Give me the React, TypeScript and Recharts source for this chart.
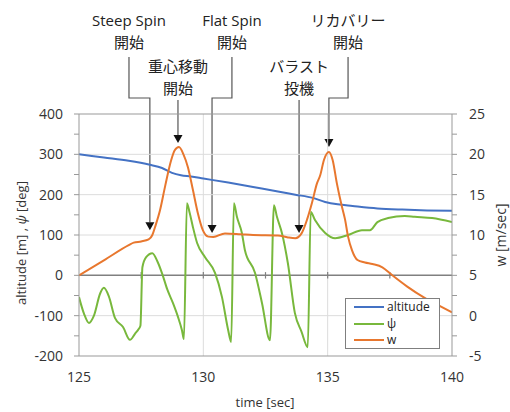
import { LineChart, Line, XAxis, YAxis, ReferenceLine, Legend, Customized } from 'recharts';

// altitude [m]
const altTime = [125, 126, 127, 127.85, 128.34, 128.74, 129.1, 129.5, 130, 131, 132, 133, 133.7, 134.4, 134.9, 135.4, 136, 137, 138, 139, 140];
const altValue = [300, 292, 284, 274, 266, 254, 248, 245, 240, 230, 219, 208, 200, 192, 182, 176, 172, 166, 163, 161, 160];

// psi [deg]
const psiTime = [
  125, 125.2, 125.4, 125.6, 125.85, 126, 126.2, 126.45, 126.77, 127.05, 127.25, 127.4, 127.47, 127.55, 127.7, 127.95,
  128.15, 128.34, 128.55, 128.78, 128.98, 129.14, 129.22, 129.34, 129.45, 129.58, 129.75, 130.07, 130.47, 130.75, 131,
  131.12, 131.23, 131.35, 131.55, 131.67, 132.08, 132.36, 132.68, 132.84, 132.96, 133.16, 133.4, 133.68, 133.95, 134.2,
  134.32, 134.49, 134.9, 135.3, 135.82, 136.38, 136.7, 137, 137.43, 138.1, 138.5, 139.2, 140,
];
const psiValue = [
  -54, -95, -118, -100, -45, -31, -52, -106, -128, -160, -145, -133, -125, 20, 45, 55,
  35, 5, -35, -69, -103, -136, -158, 179, 155, 120, 80, 45, 6, -54, -136,
  -165, 179, 145, 105, 63, 6, -69, -161, 174, 145, 105, 30, -93, -140, -178,
  157, 137, 105, 92, 100, 112, 112, 132, 142, 147, 145, 142, 132,
];

// w [m/sec]
const wTime = [
  125, 126, 127, 127.2, 127.5, 127.8, 127.95, 128.06, 128.26, 128.46, 128.7, 128.85, 129.02, 129.2, 129.38, 129.58,
  129.78, 129.98, 130.2, 130.4, 130.87, 131.5, 132, 133, 133.4, 133.7, 133.95, 134.17, 134.37, 134.57, 134.7, 134.85,
  135.05, 135.2, 135.37, 135.55, 135.7, 135.82, 135.98, 136.2, 136.5, 136.8, 137.2, 137.6, 138.2, 138.9, 139.5, 140,
];
const wValue = [
  5, 6.85, 8.75, 9.05, 9.2, 9.45, 10, 11, 13.1, 16, 19.2, 20.5, 20.9, 20, 18.4, 15.6,
  12.7, 10.6, 9.8, 9.75, 10.2, 10.1, 10, 9.95, 9.7, 9.6, 10.2, 11.9, 14, 16.4, 17.4, 19.3,
  20.3, 19.3, 16.4, 13.8, 11.9, 9.8, 8.1, 6.9, 6.6, 6.4, 6, 5, 3.6, 2.2, 1.2, 0.4,
];

const seriesNames = ['altitude', 'ψ', 'w'];
const seriesColors = ['#4472C4', '#78B83C', '#E8772E'];

const xTicks = [125, 130, 135, 140];
const xMinorTicks = [127.5, 130, 132.5, 135, 137.5];
const leftTicks = [-200, -150, -100, -50, 0, 50, 100, 150, 200, 250, 300, 350, 400];
const rightTicks = [-5, -2.5, 0, 2.5, 5, 7.5, 10, 12.5, 15, 17.5, 20, 22.5, 25];
const leftGrid = [-100, 100, 200, 300];
const xGrid = [130, 135];

// event arrows: time, w at arrow tip, label
const eventTime = [127.85, 128.98, 130.35, 133.85, 135.05];
const eventW = [10.6, 21.4, 10.25, 10.25, 20.9];
const eventLabel = [
  ['Steep Spin', '開始'],
  ['重心移動', '開始'],
  ['Flat Spin', '開始'],
  ['バラスト', '投機'],
  ['リカバリー', '開始'],
];
const eventLabelTime = [127.01, 128.98, 131.15, 133.85, 135.82];
const eventRow = [0, 1, 0, 1, 0];

const W = 510;
const H = 412;
const PLOT = { left: 79, top: 114, right: 452, bottom: 356 };
const FONT = "'Open Sans', 'Noto Sans CJK JP', sans-serif";
const TEXT = '#333';

const altData = altTime.map((t, i) => ({ t, v: altValue[i] }));
const psiData = psiTime.map((t, i) => ({ t, v: psiValue[i] }));
const wData = wTime.map((t, i) => ({ t, v: wValue[i] }));

const xPx = (t: number) => PLOT.left + ((t - 125) / 15) * (PLOT.right - PLOT.left);
const yPxW = (w: number) => PLOT.top + ((25 - w) / 30) * (PLOT.bottom - PLOT.top);

const Annotations = () => (
  <g fontFamily={FONT}>
    {eventTime.map((t, i) => {
      const tipX = xPx(t);
      const tipY = yPxW(eventW[i]);
      const lx = xPx(eventLabelTime[i]);
      const row = eventRow[i];
      const textY = row === 0 ? [20, 42] : [66, 88];
      const path = row === 0
        ? `M${lx},57 V98 H${tipX} V${tipY - 8}`
        : `M${tipX},100 V${tipY - 8}`;
      return (
        <g key={i}>
          {eventLabel[i].map((s, j) => (
            <text key={j} x={lx} y={textY[j]} textAnchor="middle" dominantBaseline="central" fontSize={15} fill="#222">
              {s}
            </text>
          ))}
          <path d={path} fill="none" stroke="#555" strokeWidth={1.2} />
          <polygon points={`${tipX},${tipY} ${tipX - 4.5},${tipY - 8} ${tipX + 4.5},${tipY - 8}`} fill="#111" />
        </g>
      );
    })}
    <text transform="translate(21,243) rotate(-90)" textAnchor="middle" dominantBaseline="central" fontSize={13} fill={TEXT}>
      altitude [m] , <tspan fontStyle="italic">ψ</tspan> [deg]
    </text>
    <text transform="translate(500,235) rotate(-90)" textAnchor="middle" dominantBaseline="central" fontSize={14} fill={TEXT}>
      w [m/sec]
    </text>
    <text x={265} y={402} textAnchor="middle" dominantBaseline="central" fontSize={13} fill={TEXT}>
      time [sec]
    </text>
  </g>
);

const LegendBox = () => (
  <div style={{ border: '1px solid #7f7f7f', background: '#fff', width: 95, height: 51, boxSizing: 'border-box', padding: '0 0 0 8px', fontFamily: FONT }}>
    {seriesNames.map((name, i) => (
      <div key={name} style={{ display: 'flex', alignItems: 'center', height: 16.5 }}>
        <span style={{ width: 30, height: 2, background: seriesColors[i], marginRight: 3 }} />
        <span style={{ fontSize: 12, color: '#222', lineHeight: '16px' }}>{name}</span>
      </div>
    ))}
  </div>
);

export default function App() {
  return (
    <div style={{ position: 'absolute', left: 0, top: 0, width: W, height: H, background: '#fff' }}>
      <LineChart width={W} height={H} margin={{ top: 114, right: 13, bottom: 0, left: 19 }}>
        <XAxis
          dataKey="t"
          type="number"
          domain={[125, 140]}
          ticks={xTicks}
          allowDataOverflow
          height={56}
          tickLine={false}
          tickMargin={10}
          axisLine={{ stroke: '#999' }}
          tick={{ fontSize: 14, fill: TEXT, fontFamily: FONT }}
        />
        <YAxis
          yAxisId="left"
          type="number"
          domain={[-200, 400]}
          ticks={leftTicks}
          width={60}
          tickSize={5}
          tickMargin={11}
          allowDataOverflow
          interval={0}
          tickFormatter={(v: number) => (v % 100 === 0 ? String(v) : '')}
          axisLine={{ stroke: '#999' }}
          tickLine={{ stroke: '#999' }}
          tick={{ fontSize: 14, fill: TEXT, fontFamily: FONT }}
        />
        <YAxis
          yAxisId="right"
          orientation="right"
          type="number"
          domain={[-5, 25]}
          ticks={rightTicks}
          width={45}
          tickSize={5}
          tickMargin={12}
          allowDataOverflow
          interval={0}
          tickFormatter={(v: number) => (v % 5 === 0 ? String(v) : '')}
          axisLine={{ stroke: '#999' }}
          tickLine={{ stroke: '#999' }}
          tick={{ fontSize: 14, fill: TEXT, fontFamily: FONT, textAnchor: 'start' }}
        />
        {leftGrid.map((y) => (
          <ReferenceLine key={'g' + y} yAxisId="left" y={y} stroke="#dcdcdc" />
        ))}
        {xGrid.map((x) => (
          <ReferenceLine key={'x' + x} yAxisId="left" x={x} stroke="#dcdcdc" />
        ))}
        <ReferenceLine yAxisId="left" y={400} stroke="#999" />
        <ReferenceLine yAxisId="left" y={0} stroke="#808080" strokeWidth={1.5} />
        {xMinorTicks.map((x) => (
          <ReferenceLine
            key={'m' + x}
            yAxisId="left"
            segment={[{ x, y: -8 }, { x, y: 8 }]}
            stroke="#808080"
            strokeWidth={1.2}
          />
        ))}
        <Line yAxisId="left" data={altData} dataKey="v" name={seriesNames[0]} type="monotone" stroke={seriesColors[0]} strokeWidth={2} dot={false} isAnimationActive={false} />
        <Line yAxisId="left" data={psiData} dataKey="v" name={seriesNames[1]} type="monotone" stroke={seriesColors[1]} strokeWidth={2} dot={false} isAnimationActive={false} />
        <Line yAxisId="right" data={wData} dataKey="v" name={seriesNames[2]} type="monotone" stroke={seriesColors[2]} strokeWidth={2} dot={false} isAnimationActive={false} />
        <Legend
          layout="horizontal"
          verticalAlign="middle"
          content={<LegendBox />}
          wrapperStyle={{ left: 345, top: 298, width: 95, height: 51 }}
        />
        <Customized component={<Annotations />} />
      </LineChart>
    </div>
  );
}
